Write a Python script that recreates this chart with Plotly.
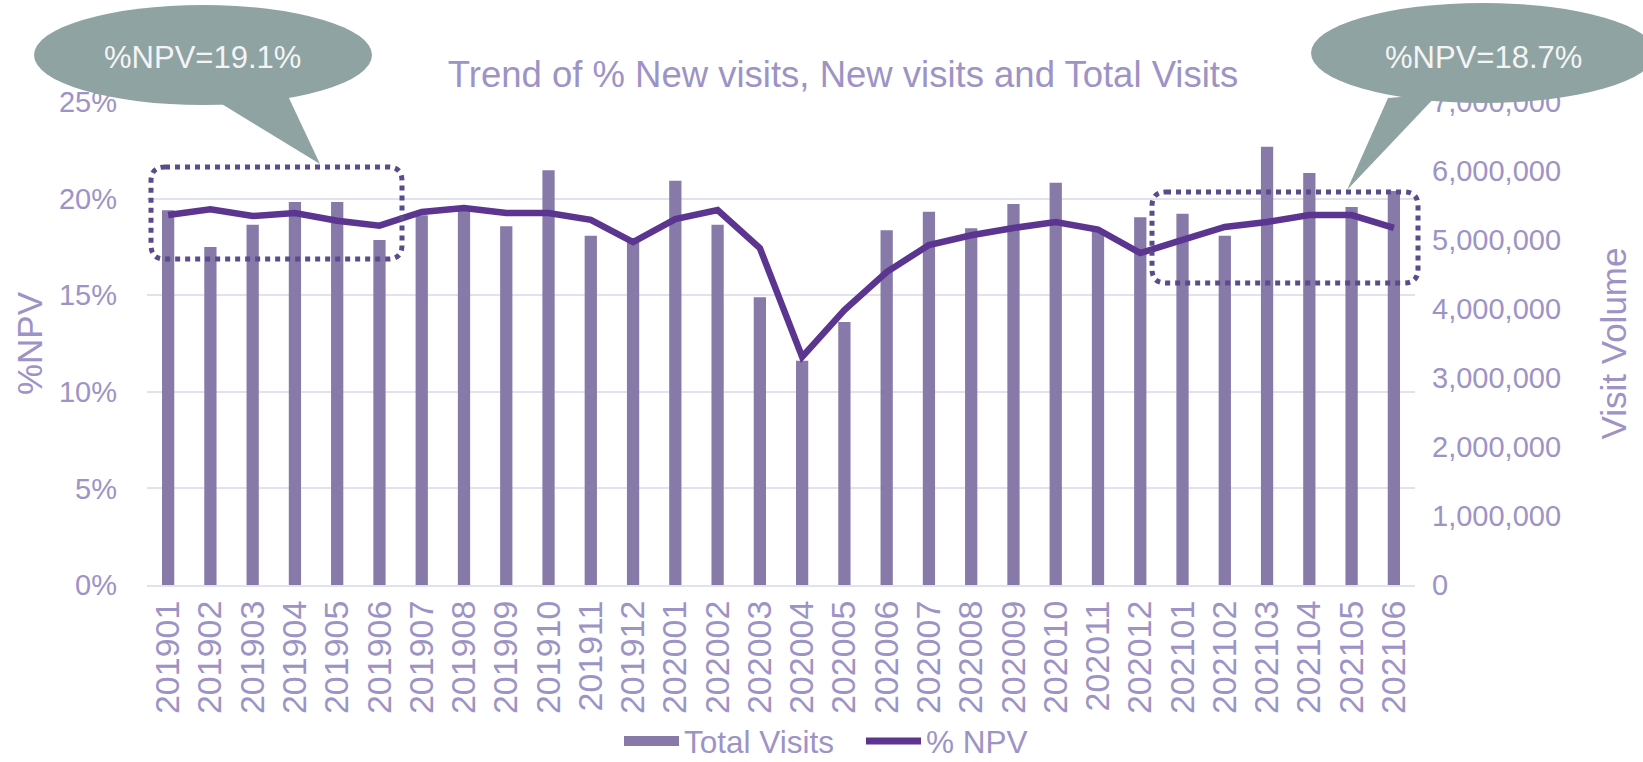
import plotly.graph_objects as go

months = ["201901", "201902", "201903", "201904", "201905", "201906",
          "201907", "201908", "201909", "201910", "201911", "201912",
          "202001", "202002", "202003", "202004", "202005", "202006",
          "202007", "202008", "202009", "202010", "202011", "202012",
          "202101", "202102", "202103", "202104", "202105", "202106"]

total_visits = [5430000, 4900000, 5220000, 5550000, 5550000, 5000000,
                5360000, 5460000, 5200000, 6010000, 5060000, 4990000,
                5860000, 5220000, 4170000, 3250000, 3810000, 5140000,
                5410000, 5170000, 5520000, 5830000, 5150000, 5330000,
                5380000, 5060000, 6350000, 5970000, 5480000, 5710000]

pct_npv = [0.1915, 0.1945, 0.1910, 0.1925, 0.1885, 0.1860,
           0.1931, 0.1951, 0.1925, 0.1925, 0.1890, 0.1775,
           0.1894, 0.1941, 0.1744, 0.1180, 0.1423, 0.1620,
           0.1760, 0.1810, 0.1848, 0.1879, 0.1840, 0.1718,
           0.1786, 0.1853, 0.1879, 0.1915, 0.1915, 0.1848]

callout_left = "%NPV=19.1%"
callout_right = "%NPV=18.7%"

W, H = 1643, 762
PL, PR, PT, PB = 147, 1415, 102, 585  # plot area in pixels

TXT = "#9d93c6"
GRID = "#e4e1ef"
BAR = "#8779a8"
LINE = "#5b3590"
BUBBLE = "#8fa3a2"
DOT = "#5b4b8a"
FONT = "Liberation Sans, Arial, sans-serif"


def px(x):
    return (x - PL) / (PR - PL)


def py(y):
    return (PB - y) / (PB - PT)


fig = go.Figure()
fig.add_trace(go.Bar(x=months, y=total_visits, name="Total Visits",
                     marker=dict(color=BAR, line=dict(width=0)),
                     width=0.29, yaxis="y", showlegend=False))
fig.add_trace(go.Scatter(x=months, y=pct_npv, name="% NPV", mode="lines",
                         line=dict(color=LINE, width=6.5), yaxis="y2",
                         showlegend=False))
# legend entries (no data drawn)
fig.add_trace(go.Scatter(x=[None], y=[None], name="Total Visits", mode="lines",
                         line=dict(color=BAR, width=20), yaxis="y"))
fig.add_trace(go.Scatter(x=[None], y=[None], name="% NPV", mode="lines",
                         line=dict(color=LINE, width=7), yaxis="y2"))


def rounded_rect(x0, y0, x1, y1, r=14):
    rx = r / (PR - PL)
    ry = r / (PB - PT)
    X0, X1 = px(x0), px(x1)
    Y0, Y1 = py(y1), py(y0)  # bottom, top
    path = (f"M {X0+rx},{Y1} L {X1-rx},{Y1} Q {X1},{Y1} {X1},{Y1-ry} "
            f"L {X1},{Y0+ry} Q {X1},{Y0} {X1-rx},{Y0} "
            f"L {X0+rx},{Y0} Q {X0},{Y0} {X0},{Y0+ry} "
            f"L {X0},{Y1-ry} Q {X0},{Y1} {X0+rx},{Y1} Z")
    return dict(type="path", xref="paper", yref="paper", path=path,
                line=dict(color=DOT, width=5, dash="dot"),
                fillcolor="rgba(0,0,0,0)", layer="above")


def tri(p1, p2, p3):
    path = (f"M {px(p1[0])},{py(p1[1])} L {px(p2[0])},{py(p2[1])} "
            f"L {px(p3[0])},{py(p3[1])} Z")
    return dict(type="path", xref="paper", yref="paper", path=path,
                line=dict(width=0), fillcolor=BUBBLE, layer="above")


def ellipse(cx, cy, rx, ry):
    return dict(type="circle", xref="paper", yref="paper",
                x0=px(cx - rx), x1=px(cx + rx), y0=py(cy + ry), y1=py(cy - ry),
                line=dict(width=0), fillcolor=BUBBLE, layer="above")


shapes = [
    rounded_rect(151, 167, 402, 259),
    rounded_rect(1152, 192, 1418, 283),
    ellipse(203, 55, 169, 50),
    tri((212, 98), (288, 96), (320, 164)),
    ellipse(1483, 53, 172, 50),
    tri((1388, 98), (1438, 94), (1347, 190)),
]

annotations = [
    dict(text=callout_left, xref="paper", yref="paper", x=px(202), y=py(58),
         showarrow=False, font=dict(family=FONT, size=31, color="#f4f4f4"),
         xanchor="center", yanchor="middle"),
    dict(text=callout_right, xref="paper", yref="paper", x=px(1483), y=py(58),
         showarrow=False, font=dict(family=FONT, size=31, color="#f4f4f4"),
         xanchor="center", yanchor="middle"),
]

fig.update_layout(
    width=W, height=H,
    margin=dict(l=PL, r=W - PR, t=PT, b=H - PB, autoexpand=False),
    paper_bgcolor="white", plot_bgcolor="white",
    font=dict(family=FONT, color=TXT, size=29),
    title=dict(text="Trend of % New visits, New visits and Total Visits",
               x=px(843), xref="paper", xanchor="center",
               y=1 - 74 / H, yanchor="middle",
               font=dict(family=FONT, size=36.5, color=TXT)),
    bargap=0.7,
    showlegend=True,
    legend=dict(orientation="h", x=px(619), xanchor="left",
                y=py(741), yanchor="middle",
                font=dict(family=FONT, size=31.5, color=TXT),
                bgcolor="rgba(0,0,0,0)", itemwidth=55, tracegroupgap=0,
                entrywidth=172),
    xaxis=dict(type="category", tickangle=-90, showgrid=False,
               showline=True, linecolor=GRID, linewidth=2,
               tickfont=dict(family=FONT, size=34, color=TXT),
               ticks="", ticklabelstandoff=0),
    yaxis=dict(side="right", range=[0, 7000000], dtick=1000000,
               tickformat=",d", showgrid=False, zeroline=False,
               tickfont=dict(family=FONT, size=29, color=TXT),
               ticklabelstandoff=16,
               title=dict(text="Visit Volume", standoff=41,
                          font=dict(family=FONT, size=35, color=TXT))),
    yaxis2=dict(overlaying="y", side="left", range=[0, 0.25], dtick=0.05,
                tickformat=".0%", showgrid=True, gridcolor=GRID, gridwidth=2,
                zeroline=False,
                tickfont=dict(family=FONT, size=29, color=TXT),
                ticklabelstandoff=29,
                title=dict(text="%NPV", standoff=5,
                           font=dict(family=FONT, size=35, color=TXT))),
    shapes=shapes,
    annotations=annotations,
)

fig.write_html("out.html",
               config={"displayModeBar": False},
               post_script="document.body.style.margin='0';"
                           "document.body.style.padding='0';"
                           "document.documentElement.style.overflow='hidden';")
